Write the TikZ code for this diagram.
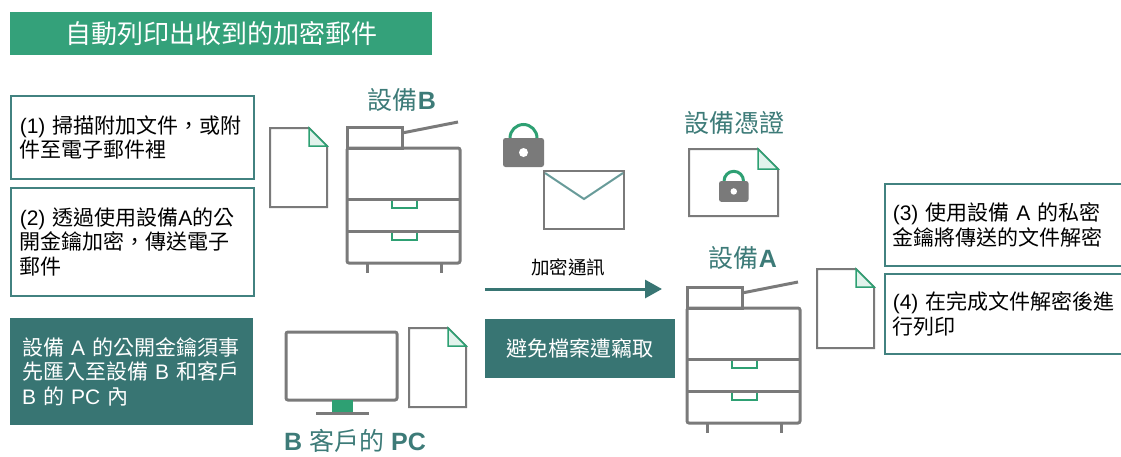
\documentclass[tikz,border=0pt]{standalone}
\usepackage{fontspec}
\setmainfont{Noto Sans CJK TC}
\newfontfamily\latfont{Liberation Sans}
\usetikzlibrary{arrows.meta}
\definecolor{titlegreen}{RGB}{52,161,122}
\definecolor{tealdark}{RGB}{56,117,115}
\definecolor{tealtext}{RGB}{61,123,120}
\definecolor{boxline}{RGB}{66,130,128}
\definecolor{icongray}{RGB}{122,122,122}
\definecolor{icongreen}{RGB}{46,160,115}
\definecolor{foldfill}{RGB}{226,243,236}
\newcommand\lat[1]{{\latfont #1}}

\begin{document}
\begin{tikzpicture}[x=1pt,y=-1pt,
  stepbox/.style={draw=boxline,line width=1.6pt,anchor=north west,minimum width=243pt,inner xsep=9pt,text width=225pt,align=left,font=\fontsize{21}{24.5}\selectfont},
  notebox/.style={fill=tealdark,text=white,anchor=north west,minimum width=243pt,inner xsep=12pt,text width=219pt,align=left,font=\fontsize{21}{24.5}\selectfont},
  tag/.style={text=tealtext,font=\fontsize{25}{28}\selectfont},
  machine/.style={draw=icongray,line width=3pt},
  handle/.style={draw=icongreen,line width=2.8pt},
  paper/.pic={
    \filldraw[fill=white,draw=icongray,line width=2pt] (0,0) -- (39,0) -- (57,18) -- (57,79) -- (0,79) -- cycle;
    \filldraw[fill=foldfill,draw=icongreen,line width=1.5pt] (39,0) -- (39,18) -- (57,18) -- cycle;
  },
  lock/.pic={
    \draw[icongreen,line width=3pt] (7,0) arc[start angle=180,end angle=360,radius=13.5];
    \fill[icongray,rounded corners=2.5] (0,0) rectangle (41,29);
    \fill[white] (20.5,14.5) circle (4.5);
  },
  printer/.pic={
    \draw[machine] (0,0) rectangle (55,-21);
    \draw[machine] (55,-15) -- (111,-26);
    \draw[handle] (45,51) -- (45,60) -- (70,60) -- (70,51);
    \draw[handle] (45,83) -- (45,92) -- (70,92) -- (70,83);
    \draw[machine,rounded corners=2] (0,0) rectangle (113,115);
    \draw[machine] (0,51) -- (113,51) (0,83) -- (113,83);
    \draw[machine] (20,115) -- (20,125) (94,115) -- (94,125);
  }]
\useasboundingbox (0,0) rectangle (1121,456);

\node[fill=titlegreen,text=white,anchor=north west,minimum width=422pt,minimum height=43pt,inner sep=0pt,font=\fontsize{26}{30}\selectfont] (title) at (10,12) {自動列印出收到的加密郵件};

\node[stepbox,minimum height=83pt] (s1) at (10,95) {\lat{(1)~}掃描附加文件，或附\\件至電子郵件裡};
\node[stepbox,minimum height=108pt] (s2) at (10,187) {\lat{(2)~}透過使用設備\lat{A}的公\\開金鑰加密，傳送電子\\郵件};
\node[notebox,minimum height=107pt] (pre) at (10,318) {設備\lat{~A~}的公開金鑰須事\\先匯入至設備\lat{~B~}和客戶\\\lat{B~}的\lat{~PC~}內};

\node[stepbox,minimum width=245pt,inner xsep=8pt,text width=229pt,minimum height=82pt] (s3) at (884,183) {\lat{(3)~}使用設備\lat{~A~}的私密\\金鑰將傳送的文件解密};
\node[stepbox,minimum width=245pt,inner xsep=8pt,text width=229pt,minimum height=80pt] (s4) at (884,273) {\lat{(4)~}在完成文件解密後進\\行列印};

\node[fill=tealdark,text=white,anchor=north west,minimum width=190pt,minimum height=59pt,font=\fontsize{21}{24.5}\selectfont] (safe) at (485,319) {避免檔案遭竊取};

% device B with its scanned page
\node[tag] (devB) at (402,100) {設備\lat{\textbf{B}}};
\pic at (270,128) {paper};
\pic at (347,148) {printer};

% client PC
\draw[machine,rounded corners=2] (286,332) rectangle (397,400);
\fill[icongreen] (332,400) rectangle (353,413);
\draw[machine] (316,413) -- (369,413);
\pic at (409,328) {paper};
\node[tag] (pcB) at (355,441) {\lat{\textbf{B}~}客戶的\lat{~\textbf{PC}}};

% locked mail
\pic at (503,138) {lock};
\draw[draw=icongray,line width=2pt] (544,171) rectangle (624,229);
\draw[draw=boxline!80,line width=2pt] (545,173) -- (584,199) -- (623,173);

% certificate
\node[tag] (cert) at (734,123) {設備憑證};
\filldraw[fill=white,draw=icongray,line width=2pt] (689,149) -- (758,149) -- (778,169) -- (778,216) -- (689,216) -- cycle;
\filldraw[fill=foldfill,draw=icongreen,line width=1.5pt] (758,149) -- (758,169) -- (778,169) -- cycle;
\pic[scale=0.72] at (719,181) {lock};

% encrypted link
\node[font=\fontsize{18.5}{22}\selectfont] (enc) at (568,267) {加密通訊};
\coordinate (linkS) at (485,289);
\coordinate (linkE) at (662,289);
\draw[tealdark,line width=3pt,-{Triangle[length=17pt,width=18pt]}] (linkS) -- (linkE);

% device A with its printed page
\node[tag] (devA) at (743,258) {設備\lat{\textbf{A}}};
\pic at (687,308) {printer};
\pic at (817,269) {paper};
\end{tikzpicture}
\end{document}
